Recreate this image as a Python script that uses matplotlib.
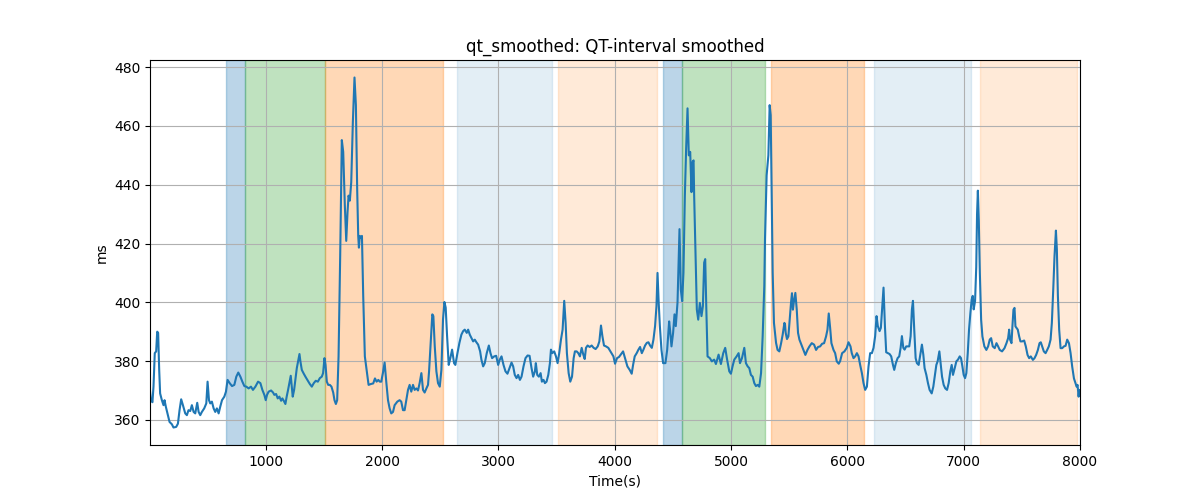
import matplotlib
matplotlib.use("Agg")
import matplotlib.pyplot as plt

# Time (s) and smoothed QT interval (ms)
time_s = [
    5, 12, 26, 35, 46, 58, 67, 75, 84, 92, 107, 121, 130, 141, 156, 173, 193, 207, 230, 245,
    259, 273, 288, 308, 322, 336, 351, 365, 380, 394, 411, 423, 437, 451, 471, 489, 500, 512, 523, 537,
    552, 566, 580, 595, 609, 624, 644, 658, 672, 690, 710, 730, 747, 764, 782, 799, 816, 833, 853, 873,
    890, 911, 934, 954, 971, 988, 1000, 1011, 1025, 1046, 1063, 1074, 1089, 1103, 1117, 1132, 1143, 1155, 1169, 1180,
    1192, 1203, 1215, 1224, 1232, 1244, 1255, 1267, 1278, 1290, 1298, 1310, 1327, 1344, 1361, 1379, 1396, 1413, 1430, 1448,
    1465, 1482, 1493, 1505, 1514, 1525, 1537, 1551, 1565, 1580, 1591, 1603, 1614, 1626, 1640, 1654, 1666, 1680, 1692, 1703,
    1712, 1723, 1735, 1749, 1763, 1775, 1786, 1795, 1801, 1809, 1818, 1827, 1838, 1852, 1867, 1884, 1904, 1924, 1939, 1953,
    1968, 1980, 1993, 2007, 2022, 2036, 2051, 2065, 2079, 2094, 2108, 2131, 2151, 2165, 2180, 2194, 2208, 2223, 2237, 2251,
    2266, 2280, 2295, 2309, 2323, 2338, 2352, 2366, 2381, 2395, 2404, 2418, 2432, 2441, 2453, 2467, 2481, 2496, 2510, 2524,
    2536, 2547, 2559, 2573, 2587, 2602, 2619, 2630, 2648, 2665, 2682, 2697, 2711, 2728, 2740, 2754, 2768, 2783, 2797, 2811,
    2826, 2843, 2854, 2869, 2883, 2900, 2918, 2932, 2946, 2964, 2981, 2998, 3012, 3027, 3044, 3061, 3078, 3096, 3113, 3127,
    3141, 3156, 3170, 3185, 3199, 3216, 3233, 3251, 3268, 3285, 3299, 3314, 3322, 3334, 3348, 3363, 3374, 3388, 3400, 3414,
    3429, 3443, 3452, 3463, 3480, 3495, 3509, 3523, 3538, 3552, 3566, 3578, 3589, 3604, 3618, 3633, 3647, 3658, 3673, 3687,
    3701, 3716, 3730, 3742, 3753, 3767, 3785, 3802, 3819, 3836, 3854, 3868, 3882, 3894, 3908, 3925, 3945, 3968, 3989, 4003,
    4020, 4037, 4052, 4072, 4089, 4109, 4129, 4146, 4158, 4172, 4189, 4204, 4218, 4233, 4247, 4261, 4276, 4290, 4304, 4319,
    4333, 4347, 4359, 4368, 4378, 4388, 4402, 4416, 4436, 4451, 4468, 4476, 4488, 4502, 4514, 4525, 4540, 4557, 4568, 4580,
    4591, 4603, 4614, 4626, 4637, 4649, 4660, 4669, 4678, 4683, 4695, 4706, 4718, 4732, 4746, 4758, 4769, 4778, 4787, 4798,
    4818, 4835, 4855, 4870, 4893, 4913, 4933, 4950, 4965, 4985, 4999, 5013, 5028, 5048, 5065, 5077, 5094, 5114, 5128, 5143,
    5157, 5171, 5186, 5200, 5214, 5229, 5243, 5258, 5272, 5286, 5292, 5306, 5321, 5332, 5341, 5349, 5358, 5369, 5387, 5400,
    5415, 5430, 5444, 5459, 5464, 5470, 5481, 5493, 5504, 5516, 5524, 5532, 5539, 5553, 5565, 5576, 5588, 5605, 5622, 5639,
    5657, 5674, 5694, 5714, 5731, 5748, 5766, 5783, 5800, 5817, 5829, 5840, 5852, 5863, 5881, 5895, 5909, 5926, 5938, 5955,
    5975, 5995, 6010, 6027, 6038, 6053, 6067, 6082, 6096, 6110, 6125, 6139, 6153, 6168, 6182, 6196, 6211, 6225, 6239, 6251,
    6262, 6277, 6288, 6300, 6311, 6323, 6334, 6349, 6363, 6377, 6392, 6403, 6417, 6432, 6446, 6458, 6469, 6481, 6492, 6506,
    6521, 6532, 6544, 6555, 6564, 6575, 6587, 6598, 6613, 6627, 6641, 6653, 6664, 6679, 6693, 6707, 6725, 6739, 6753, 6765,
    6776, 6791, 6802, 6814, 6828, 6842, 6857, 6871, 6885, 6897, 6908, 6923, 6937, 6951, 6966, 6977, 6989, 7000, 7012, 7023,
    7035, 7046, 7058, 7069, 7078, 7086, 7098, 7108, 7115, 7122, 7130, 7139, 7150, 7161, 7178, 7195, 7210, 7224, 7236, 7250,
    7267, 7282, 7296, 7310, 7330, 7351, 7368, 7382, 7391, 7399, 7411, 7419, 7428, 7437, 7445, 7454, 7465, 7477, 7488, 7503,
    7520, 7534, 7549, 7563, 7577, 7595, 7609, 7623, 7638, 7652, 7663, 7675, 7689, 7704, 7718, 7732, 7747, 7758, 7770, 7781,
    7793, 7801, 7810, 7821, 7833, 7847, 7862, 7876, 7890, 7905, 7919, 7933, 7948, 7962, 7971, 7979, 7988, 7994, 8000,
]
qt_ms = [
    370, 366.7, 366, 371.3, 382.7, 383.3, 390, 389.6, 377, 369, 366.7, 365, 366.7, 364.5, 362, 359.3, 358.5, 357.4, 357.6, 358.7,
    363.3, 367, 365, 362.2, 361.6, 363.3, 363, 365, 362.7, 362.2, 365.8, 362.7, 361.6, 362.7, 363.9, 365.6, 373, 366.7, 365.6, 366.2,
    363.9, 362.7, 363.9, 362.2, 364.5, 366.7, 367.9, 369.6, 373.6, 372.5, 371.5, 371.9, 374.7, 376.1, 374.7, 373, 371.5, 371.3, 370.7, 371.3,
    370.2, 371.3, 373, 372.5, 370.2, 368.5, 366.7, 368.5, 369.6, 370, 369.3, 368.5, 368.8, 367.3, 367.9, 366.5, 367.3, 366.5, 365.4, 367.9,
    370.2, 372.5, 375, 371.3, 367.9, 370.2, 373.6, 377.6, 379.9, 382.4, 379.9, 377, 375.7, 374.5, 373.4, 372.2, 371.3, 372.5, 373.3, 373,
    374.2, 374.7, 375.9, 381, 378.7, 373, 371.9, 371.9, 371.3, 369.3, 366.7, 365.4, 366.7, 381.6, 415.8, 455.2, 451.2, 432.9, 420.9, 430.6,
    436.3, 434.6, 440.9, 461.4, 476.5, 467.1, 438.6, 422.6, 418.6, 422.6, 422, 422.6, 402.1, 381.6, 377, 371.9, 372.2, 372.4, 374.1, 373,
    373.6, 373, 373, 375.9, 379.5, 373, 366.7, 363.9, 362.2, 362.7, 365, 366.2, 366.7, 366.2, 363.3, 363.3, 366.7, 370.2, 371.9, 369.6,
    371.9, 370.2, 370.7, 370, 372.5, 375.9, 370.2, 369.3, 370.7, 371.9, 376.5, 386.2, 395.9, 395.3, 385, 376.5, 372.5, 371.3, 377, 394.2,
    400.1, 398.2, 388.5, 378.7, 381, 383.9, 379.3, 378.7, 382.7, 386.2, 389, 390.2, 390.7, 389.6, 390.7, 389, 387.9, 386.7, 387.3, 386.4,
    385.6, 383.3, 380.5, 378.2, 379.3, 382.7, 385.3, 382.7, 381, 381.6, 381.8, 378.7, 380.5, 381.6, 378.7, 376.5, 375.7, 377.6, 379.5, 378.2,
    375.3, 374.2, 375.3, 373.6, 374.7, 378.2, 381, 381.9, 381.8, 377.6, 374.7, 376.5, 379.3, 375.3, 374.7, 375.9, 373, 373.6, 372.5, 373,
    375.3, 379.3, 383.9, 382.7, 383.3, 381.6, 379.3, 382.7, 387.3, 390.7, 400.5, 393, 382.7, 375.9, 373, 374.7, 381, 383.3, 383.3, 382.7,
    381.6, 384.5, 382.2, 380.7, 384.5, 385.3, 384.8, 385.3, 384.5, 384.1, 385, 386.7, 392.1, 388.5, 385.3, 385, 384.5, 383, 381.6, 379.1,
    381, 381.4, 382.2, 383.3, 381, 378.2, 377, 375.7, 378.7, 381.6, 382.7, 383.9, 384.8, 382.7, 383.9, 385.3, 386.2, 386.4, 385.3, 384.5,
    387.3, 391.9, 398.7, 410, 400, 392, 383.8, 379.3, 379.3, 383.8, 393.5, 390.5, 385, 389.6, 395.9, 391.9, 400, 424.9, 404.4, 400.4,
    410.1, 436.3, 452.3, 466, 450, 451.2, 437.5, 447.7, 448.3, 436.3, 415.8, 397.5, 394.1, 399.8, 395.3, 398.7, 413.5, 414.7, 398.7, 381.6,
    381, 379.9, 380.5, 379, 382.2, 379, 382.7, 384.5, 380.8, 376.5, 375.7, 378.2, 380.5, 381.6, 382.7, 379.3, 381, 384.5, 379.3, 378.2,
    377.6, 375.3, 374.7, 372.5, 371.5, 371.9, 371.3, 375.9, 388.5, 405.6, 421.5, 443.2, 450, 467.1, 463.7, 438.6, 410.1, 393, 386.2, 383.8,
    383.3, 386, 389, 393, 392.5, 389.6, 387.5, 388.4, 394.1, 400, 403.1, 397.5, 399.8, 403.2, 397.5, 389.6, 387.3, 385.6, 383.8, 382.1,
    383.8, 385, 386.1, 385.6, 383.8, 384.8, 385, 385.9, 386.1, 388.4, 390.7, 396.2, 391.3, 386.1, 383.8, 382.7, 379.9, 379.1, 380, 382.7,
    383.3, 384.5, 386.4, 385, 382.7, 381, 381.6, 382.7, 381.6, 378.7, 375.9, 372.5, 370.2, 371.3, 378.2, 382.7, 382.7, 384.5, 388.5, 395.3,
    391.9, 390.2, 391.3, 398.7, 405, 391.9, 383, 382.7, 382.4, 381.6, 378.7, 377, 379.3, 381, 381.6, 384.5, 388.5, 384.5, 383.9, 385,
    385, 385, 388.5, 397.6, 400.5, 390.7, 381, 379.3, 378.7, 382.2, 385.6, 382.2, 377.6, 375.3, 372.5, 370.2, 369, 371.3, 375.3, 378.7,
    379.9, 383.3, 379.3, 374.7, 371.9, 370.7, 370.2, 372.5, 376.5, 378.7, 375.3, 377.6, 379.9, 380.5, 381.6, 381, 378.2, 375.3, 374.2, 375.9,
    382.7, 390.7, 396.5, 401, 402.2, 397.6, 400.5, 412, 430, 438, 428, 410, 394.1, 388.4, 385, 383.8, 385, 387.3, 387.8, 385,
    384.4, 386.1, 385, 383.8, 383.3, 384.4, 386.1, 387.8, 390.7, 387.3, 386.1, 391.8, 397.5, 398.1, 391.8, 391.3, 390.7, 388.4, 386.7, 386.7,
    387, 385, 382.1, 381, 381.6, 380.4, 381, 382.1, 383.8, 386.1, 386.4, 385, 383.3, 382.7, 383.8, 385, 387.3, 393, 404.4, 415.8,
    424.4, 418.1, 402.1, 390.7, 384.4, 384.4, 385, 385.2, 387.3, 386.1, 382.7, 378.1, 374.1, 372.4, 371.3, 371.9, 367.9, 370.2, 369.5,
]

# Protocol phases (start, end in seconds) and phase kind
phase_start = [658, 821, 1506, 2640, 3509, 4414, 4580, 5344, 6232, 7144]
phase_end = [821, 1506, 2527, 3457, 4362, 4580, 5289, 6145, 7065, 7970]
phase_kind = ["A", "B", "C", "D", "E", "A", "B", "C", "D", "E"]

kind_style = {
    "A": ("tab:blue", 0.3),
    "B": ("tab:green", 0.3),
    "C": ("tab:orange", 0.3),
    "D": ("tab:blue", 0.12),
    "E": ("tab:orange", 0.16),
}

fig, ax = plt.subplots(figsize=(12, 5), dpi=100)
for s, e, k in zip(phase_start, phase_end, phase_kind):
    c, a = kind_style[k]
    ax.axvspan(s, e, color=c, alpha=a)
ax.plot(time_s, qt_ms, color="tab:blue", linewidth=1.5)
ax.set_xlim(time_s[0], time_s[-1])
ax.set_title("qt_smoothed: QT-interval smoothed")
ax.set_xlabel("Time(s)")
ax.set_ylabel("ms")
ax.grid(True)
fig.savefig("out.png", dpi=100)
